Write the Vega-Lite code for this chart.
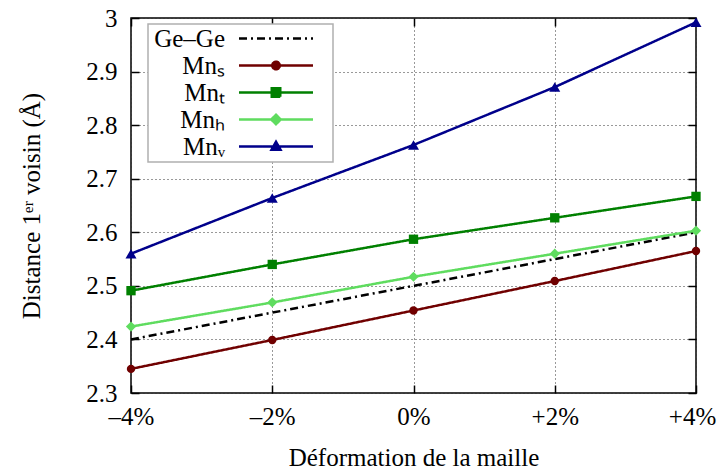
{
  "$schema": "https://vega.github.io/schema/vega-lite/v6.json",
  "width": 565,
  "height": 375,
  "autosize": "none",
  "padding": {"left": 131, "top": 18, "right": 21, "bottom": 78},
  "config": {
    "font": "Liberation Serif",
    "view": {"stroke": "black", "strokeWidth": 1.5},
    "axis": {
      "labelFont": "Liberation Serif", "labelFontSize": 25, "labelColor": "black", "labelFlush": false,
      "titleFont": "Liberation Serif", "titleFontSize": 25, "titleFontWeight": "normal", "titleColor": "black",
      "domain": false, "tickColor": "black", "tickWidth": 1.5, "tickSize": -8,
      "gridColor": "#333333", "gridDash": [1, 3], "gridWidth": 1, "gridOpacity": 1
    }
  },
  "data": {
    "values": [
      {"series": "Ge–Ge", "x": -4, "y": 2.40},
      {"series": "Ge–Ge", "x": -2, "y": 2.45},
      {"series": "Ge–Ge", "x": 0, "y": 2.50},
      {"series": "Ge–Ge", "x": 2, "y": 2.55},
      {"series": "Ge–Ge", "x": 4, "y": 2.60},
      {"series": "Mnₛ", "x": -4, "y": 2.345},
      {"series": "Mnₛ", "x": -2, "y": 2.399},
      {"series": "Mnₛ", "x": 0, "y": 2.454},
      {"series": "Mnₛ", "x": 2, "y": 2.509},
      {"series": "Mnₛ", "x": 4, "y": 2.565},
      {"series": "Mnₜ", "x": -4, "y": 2.491},
      {"series": "Mnₜ", "x": -2, "y": 2.540},
      {"series": "Mnₜ", "x": 0, "y": 2.587},
      {"series": "Mnₜ", "x": 2, "y": 2.627},
      {"series": "Mnₜ", "x": 4, "y": 2.667},
      {"series": "Mnₕ", "x": -4, "y": 2.424},
      {"series": "Mnₕ", "x": -2, "y": 2.469},
      {"series": "Mnₕ", "x": 0, "y": 2.517},
      {"series": "Mnₕ", "x": 2, "y": 2.560},
      {"series": "Mnₕ", "x": 4, "y": 2.603},
      {"series": "Mnᵥ", "x": -4, "y": 2.560},
      {"series": "Mnᵥ", "x": -2, "y": 2.664},
      {"series": "Mnᵥ", "x": 0, "y": 2.763},
      {"series": "Mnᵥ", "x": 2, "y": 2.871},
      {"series": "Mnᵥ", "x": 4, "y": 2.992}
    ]
  },
  "layer": [
    {
      "encoding": {
        "x": {
          "field": "x", "type": "quantitative",
          "scale": {"domain": [-4, 4], "nice": false, "zero": false},
          "axis": {
            "orient": "bottom", "values": [-4, -2, 0, 2, 4], "title": "Déformation de la maille",
            "labelPadding": 19, "titlePadding": 16,
            "labelOffset": {"condition": {"test": "datum.value === 4", "value": -4}, "value": 0},
            "labelExpr": "datum.value < 0 ? '–' + abs(datum.value) + '%' : (datum.value > 0 ? '+' + datum.value + '%' : '0%')"
          }
        },
        "y": {
          "field": "y", "type": "quantitative",
          "scale": {"domain": [2.3, 3.0], "nice": false, "zero": false},
          "axis": {
            "orient": "left", "values": [2.3, 2.4, 2.5, 2.6, 2.7, 2.8, 2.9, 3.0], "format": ".1~f",
            "title": "Distance 1ᵉʳ voisin (Å)", "labelPadding": 22, "titlePadding": 41
          }
        }
      },
      "layer": [
        {
          "mark": {"type": "line", "strokeWidth": 2.5},
          "encoding": {
            "color": {
              "field": "series", "type": "nominal",
              "scale": {
                "domain": ["Ge–Ge", "Mnₛ", "Mnₜ", "Mnₕ", "Mnᵥ"],
                "range": ["#000000", "#700000", "#008000", "#5fdc5f", "#00008b"]
              },
              "legend": {
                "title": null, "orient": "none", "legendX": 17, "legendY": 6,
                "labelFont": "Liberation Serif", "labelFontSize": 25, "labelColor": "black",
                "labelAlign": "right", "symbolSize": 100, "symbolStrokeWidth": 2.5,
                "rowPadding": 1, "padding": 2,
                "strokeColor": "#b0b0b0", "fillColor": "white",
                "encode": {
                  "legend": {"update": {"strokeWidth": {"value": 1.5}}},
                  "symbols": {
                    "update": {
                      "shape": {"signal": "datum.value === 'Mnₛ' ? 'M-7.4,0H7.4M10,0L10,0M0.75,0A0.75,0.75,0,1,1,-0.75,0A0.75,0.75,0,1,1,0.75,0Z' : datum.value === 'Mnₜ' ? 'M-7.4,0H7.4M10,0L10,0M-0.85,-0.85H0.85V0.85H-0.85Z' : datum.value === 'Mnₕ' ? 'M-7.4,0H7.4M10,0L10,0M0,-0.95L0.95,0L0,0.95L-0.95,0Z' : datum.value === 'Mnᵥ' ? 'M-7.4,0H7.4M10,0L10,0M0,-0.95L0.9,0.65L-0.9,0.65Z' : 'M-7.4,0H7.4M10,0L10,0'"},
                      "x": {"value": 126},
                      "stroke": {"signal": "scale('color', datum.value)"},
                      "fill": {"signal": "datum.value === 'Ge–Ge' ? 'transparent' : scale('color', datum.value)"},
                      "strokeDash": {"signal": "datum.value === 'Ge–Ge' ? [8, 4, 2, 4] : [1, 0]"},
                      "opacity": {"value": 1}
                    }
                  },
                  "labels": {"update": {"x": {"value": 75}}}
                }
              }
            },
            "strokeDash": {
              "field": "series", "type": "nominal",
              "scale": {
                "domain": ["Ge–Ge", "Mnₛ", "Mnₜ", "Mnₕ", "Mnᵥ"],
                "range": [[8, 4, 2, 4], [1, 0], [1, 0], [1, 0], [1, 0]]
              },
              "legend": null
            }
          }
        },
        {
          "transform": [{"filter": "datum.series !== 'Ge–Ge'"}],
          "mark": {"type": "point", "filled": true, "opacity": 1},
          "encoding": {
            "color": {"field": "series", "type": "nominal"},
            "shape": {
              "field": "series", "type": "nominal",
              "scale": {
                "domain": ["Mnₛ", "Mnₜ", "Mnₕ", "Mnᵥ"],
                "range": ["circle", "square", "diamond", "triangle-up"]
              },
              "legend": null
            },
            "size": {
              "field": "series", "type": "nominal",
              "scale": {"domain": ["Mnₛ", "Mnₜ", "Mnₕ", "Mnᵥ"], "range": [70, 121, 144, 130]},
              "legend": null
            }
          }
        }
      ]
    },
    {
      "mark": {"type": "line", "opacity": 0},
      "encoding": {
        "x": {
          "field": "x", "type": "quantitative",
          "scale": {"domain": [-4, 4], "nice": false, "zero": false},
          "axis": {"orient": "top", "values": [-4, -2, 0, 2, 4], "labels": false, "grid": false, "title": null}
        },
        "y": {
          "field": "y", "type": "quantitative",
          "scale": {"domain": [2.3, 3.0], "nice": false, "zero": false},
          "axis": {"orient": "right", "values": [2.3, 2.4, 2.5, 2.6, 2.7, 2.8, 2.9, 3.0], "labels": false, "grid": false, "title": null}
        },
        "detail": {"field": "series"}
      }
    }
  ],
  "resolve": {"axis": {"x": "independent", "y": "independent"}}
}
